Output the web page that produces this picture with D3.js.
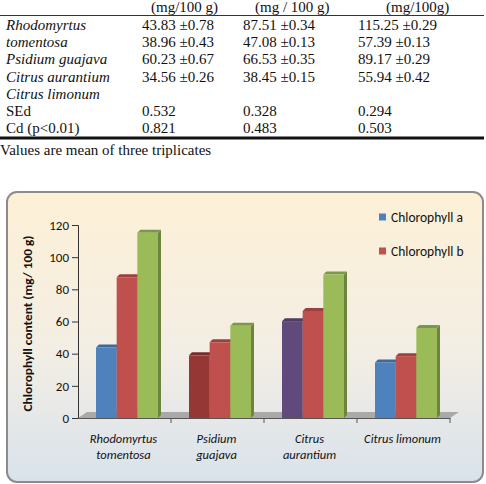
<!DOCTYPE html>
<html>
<head>
<meta charset="utf-8">
<script src="https://cdn.jsdelivr.net/npm/d3@7"></script>
<style>
  body { margin: 0; background: #fff; }
  svg { display: block; }
</style>
</head>
<body>
<div id="chart"></div>
<script>
// table + chart data
const units = ["(mg/100 g)", "(mg / 100 g)", "(mg/100g)"];
const rowLabels = ["Rhodomyrtus", "tomentosa", "Psidium guajava", "Citrus aurantium", "Citrus limonum"];
const species = ["Rhodomyrtus tomentosa", "Psidium guajava", "Citrus aurantium", "Citrus limonum"];
const speciesLines = [["Rhodomyrtus", "tomentosa"], ["Psidium", "guajava"], ["Citrus", "aurantium"], ["Citrus limonum"]];
const chlA = [43.83, 38.96, 60.23, 34.56];
const chlAErr = [0.78, 0.43, 0.67, 0.26];
const chlB = [87.51, 47.08, 66.53, 38.45];
const chlBErr = [0.34, 0.13, 0.35, 0.15];
const chlT = [115.25, 57.39, 89.17, 55.94];
const chlTErr = [0.29, 0.13, 0.29, 0.42];
const sed = ["0.532", "0.328", "0.294"];
const cd = ["0.821", "0.483", "0.503"];
const yTicks = [0, 20, 40, 60, 80, 100, 120];
const legendNames = ["Chlorophyll a", "Chlorophyll b"];
const firstBarColors = ["#4f81bd", "#953735", "#604a7b", "#4f81bd"];

const W = 486, H = 484;
const svg = d3.select("#chart").append("svg").attr("width", W).attr("height", H);

// ---------- table ----------
const serif = "'Liberation Serif', 'DejaVu Serif', serif";
const colX = [142, 243, 358];
const table = svg.append("g").attr("font-family", serif).attr("font-size", 15).attr("fill", "#111");

table.selectAll("text.unit").data(units).join("text")
    .attr("class", "unit")
    .attr("x", (d, i) => colX[i] + [9, 12, 28][i])
    .attr("y", 11.5)
    .text(d => d);

table.append("line").attr("x1", 0).attr("x2", 484).attr("y1", 15.5).attr("y2", 15.5)
    .attr("stroke", "#333").attr("stroke-width", 1);

const rowY = i => 30 + i * 17.2;
const fmt = d3.format(".2f");

table.selectAll("text.lab").data(rowLabels).join("text")
    .attr("class", "lab")
    .attr("x", 6).attr("y", (d, i) => rowY(i))
    .attr("font-style", "italic")
    .text(d => d);

[[chlA, chlAErr], [chlB, chlBErr], [chlT, chlTErr]].forEach(([vals, errs], c) => {
  table.selectAll("text.c" + c).data(vals).join("text")
      .attr("class", "c" + c)
      .attr("x", colX[c]).attr("y", (d, i) => rowY(i))
      .text((d, i) => fmt(d) + " \u00b1" + fmt(errs[i]));
});

table.append("text").attr("x", 6).attr("y", rowY(5)).text("SEd");
table.append("text").attr("x", 6).attr("y", rowY(6)).text("Cd (p<0.01)");
sed.forEach((d, c) => table.append("text").attr("x", colX[c]).attr("y", rowY(5)).text(d));
cd.forEach((d, c) => table.append("text").attr("x", colX[c]).attr("y", rowY(6)).text(d));

table.append("line").attr("x1", 0).attr("x2", 484).attr("y1", 138).attr("y2", 138)
    .attr("stroke", "#111").attr("stroke-width", 3);
table.append("text").attr("x", 0).attr("y", 155).text("Values are mean of three triplicates");

// ---------- chart panel ----------
const defs = svg.append("defs");
const grad = defs.append("linearGradient").attr("id", "bg").attr("x1", 0).attr("x2", 0).attr("y1", 0).attr("y2", 1);
grad.append("stop").attr("offset", "0%").attr("stop-color", "#fdf0d6");
grad.append("stop").attr("offset", "55%").attr("stop-color", "#f3eee4");
grad.append("stop").attr("offset", "100%").attr("stop-color", "#d9e2ec");

svg.append("rect").attr("x", 7).attr("y", 192).attr("width", 476).attr("height", 290)
    .attr("rx", 10).attr("fill", "url(#bg)").attr("stroke", "#8c8c8c").attr("stroke-width", 2);

const sans = "Carlito, 'Liberation Sans', 'Open Sans', sans-serif";
const plot = { left: 78, right: 450, top: 225, bottom: 418 };

const x = d3.scaleBand().domain(species).range([plot.left, plot.right]);
const xs = d3.scaleBand().domain([0, 1, 2]).range([18, 80]);
const y = d3.scaleLinear().domain([0, 120]).range([plot.bottom, plot.top]);

// floor
const dx = 9, dy = 6;
svg.append("path")
    .attr("d", `M${plot.left},${plot.bottom}L${plot.right},${plot.bottom}L${plot.right + dx},${plot.bottom - dy}L${plot.left + dx},${plot.bottom - dy}Z`)
    .attr("fill", "#a9a9a9");

// bars
const data = species.map((s, i) => ({ s, vals: [chlA[i], chlB[i], chlT[i]], c0: firstBarColors[i] }));
const barColors = (d, j) => j === 0 ? d.c0 : (j === 1 ? "#c0504d" : "#9bbb59");
const bd = 3;
const bars = svg.append("g").selectAll("g").data(data).join("g")
    .attr("transform", d => `translate(${x(d.s)},0)`);
bars.each(function (d) {
  const g = d3.select(this);
  d.vals.forEach((v, j) => {
    const c = barColors(d, j);
    const x0 = xs(j), w = xs.bandwidth(), top = y(v);
    // side
    g.append("path")
        .attr("d", `M${x0 + w},${top}L${x0 + w + bd},${top - bd}L${x0 + w + bd},${plot.bottom - bd}L${x0 + w},${plot.bottom}Z`)
        .attr("fill", d3.color(c).darker(1));
    // top
    g.append("path")
        .attr("d", `M${x0},${top}L${x0 + bd},${top - bd}L${x0 + w + bd},${top - bd}L${x0 + w},${top}Z`)
        .attr("fill", d3.color(c).darker(0.6));
    g.append("rect").attr("x", x0).attr("y", top).attr("width", w).attr("height", plot.bottom - top)
        .attr("fill", c);
  });
});

// y axis
const yAxis = svg.append("g").attr("transform", `translate(${plot.left},0)`)
    .call(d3.axisLeft(y).tickValues(yTicks).tickSize(6).tickPadding(3));
yAxis.select(".domain").attr("stroke", "#333");
yAxis.selectAll(".tick line").attr("stroke", "#333");
yAxis.selectAll(".tick text").attr("font-family", sans).attr("font-size", 13).attr("fill", "#111");

// x axis
const xAxis = svg.append("g").attr("transform", `translate(0,${plot.bottom})`)
    .call(d3.axisBottom(x).tickSize(0).tickFormat(""));
xAxis.select(".domain").attr("stroke", "#555");
svg.append("g").selectAll("line").data(species).join("line")
    .attr("x1", d => x(d) + x.bandwidth()).attr("x2", d => x(d) + x.bandwidth())
    .attr("y1", plot.bottom).attr("y2", plot.bottom + 5).attr("stroke", "#555");

svg.append("g").selectAll("text").data(species).join("text")
    .attr("font-family", sans).attr("font-size", 12.5).attr("font-style", "italic").attr("fill", "#111")
    .attr("text-anchor", "middle")
    .each(function (d, i) {
      const t = d3.select(this);
      speciesLines[i].forEach((line, k) => {
        t.append("tspan").attr("x", x(d) + x.bandwidth() / 2 - 1).attr("y", 443 + k * 16).text(line);
      });
    });

// y title
svg.append("text")
    .attr("transform", `translate(32,${(plot.top + plot.bottom) / 2 + 2}) rotate(-90)`)
    .attr("text-anchor", "middle")
    .attr("font-family", sans).attr("font-size", 12.5).attr("font-weight", "bold").attr("fill", "#111")
    .attr("textLength", 176).attr("lengthAdjust", "spacingAndGlyphs")
    .text("Chlorophyll content (mg/ 100 g)");

// legend
const legend = svg.append("g").selectAll("g").data(legendNames).join("g")
    .attr("transform", (d, i) => `translate(379,${217 + i * 34})`);
legend.append("rect").attr("x", 0).attr("y", -3.5).attr("width", 7).attr("height", 7)
    .attr("fill", (d, i) => i === 0 ? "#4f81bd" : "#c0504d");
legend.append("text").attr("x", 12).attr("y", 4.5)
    .attr("font-family", sans).attr("font-size", 13.5).attr("fill", "#111")
    .text(d => d);
</script>
</body>
</html>
